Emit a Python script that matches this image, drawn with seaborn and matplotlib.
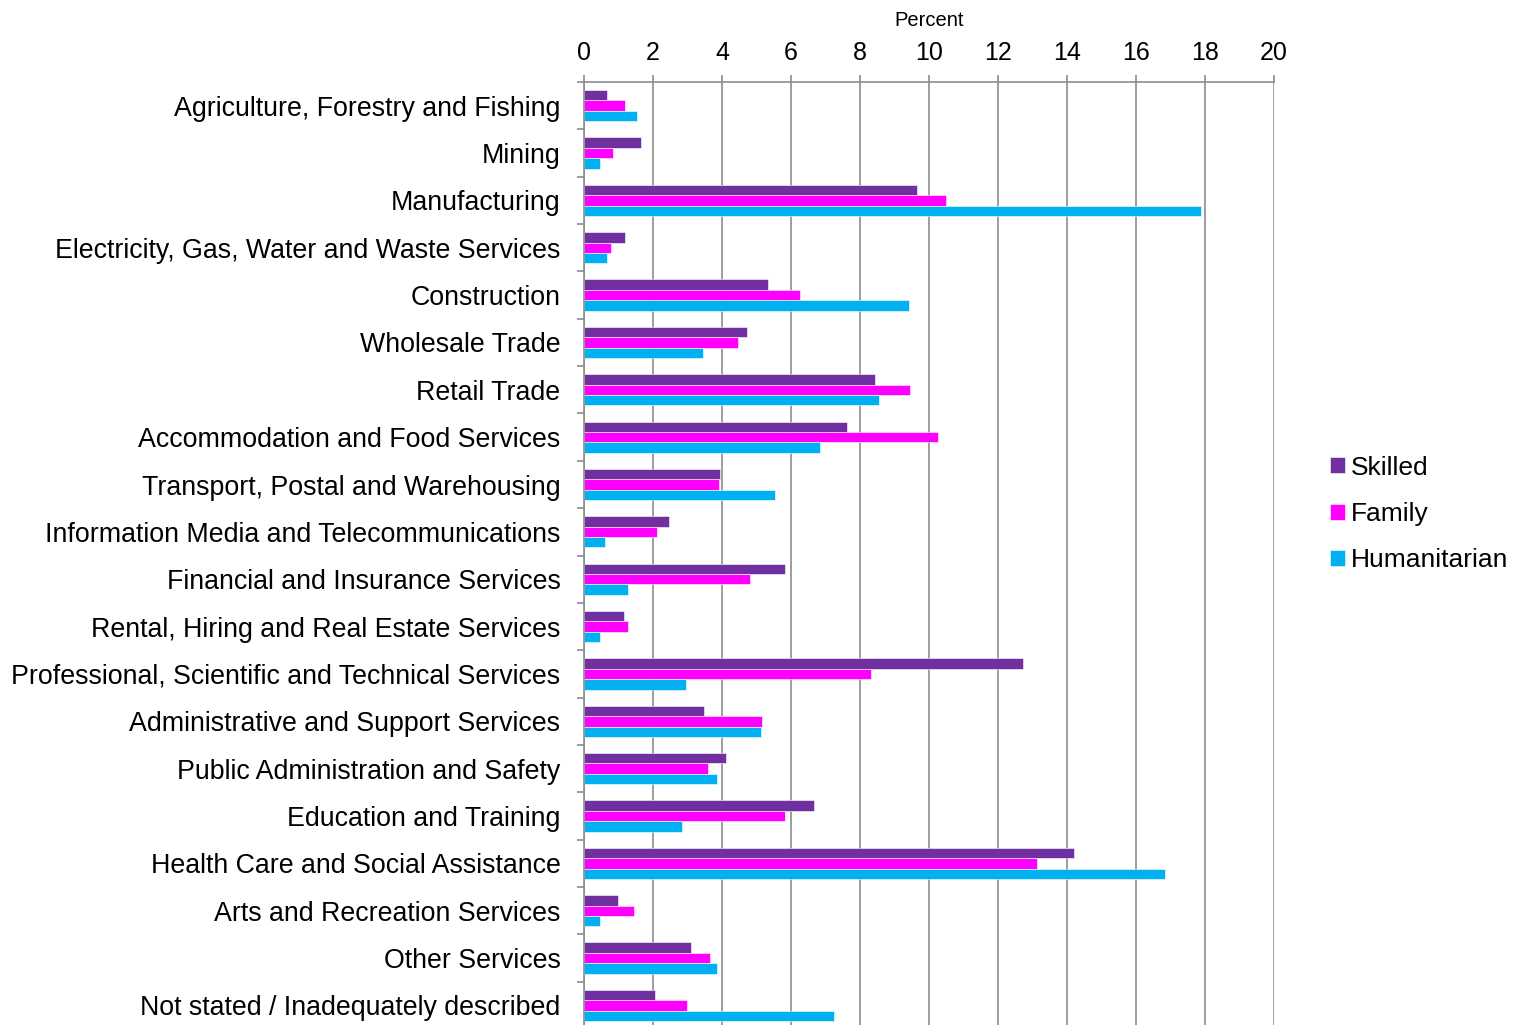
import numpy as np
import pandas as pd
import matplotlib
matplotlib.use("Agg")
import matplotlib.pyplot as plt
import seaborn as sns

industries = [
    "Agriculture, Forestry and Fishing",
    "Mining",
    "Manufacturing",
    "Electricity, Gas, Water and Waste Services",
    "Construction",
    "Wholesale Trade",
    "Retail Trade",
    "Accommodation and Food Services",
    "Transport, Postal and Warehousing",
    "Information Media and Telecommunications",
    "Financial and Insurance Services",
    "Rental, Hiring and Real Estate Services",
    "Professional, Scientific and Technical Services",
    "Administrative and Support Services",
    "Public Administration and Safety",
    "Education and Training",
    "Health Care and Social Assistance",
    "Arts and Recreation Services",
    "Other Services",
    "Not stated / Inadequately described",
]

skilled = [0.65, 1.64, 9.66, 1.2, 5.33, 4.71, 8.42, 7.62, 3.93, 2.47,
           5.82, 1.16, 12.72, 3.48, 4.1, 6.65, 14.2, 0.98, 3.09, 2.06]
family = [1.2, 0.84, 10.49, 0.78, 6.27, 4.46, 9.46, 10.27, 3.92, 2.1,
          4.8, 1.27, 8.32, 5.16, 3.58, 5.83, 13.12, 1.45, 3.66, 2.99]
humanitarian = [1.54, 0.45, 17.89, 0.65, 9.43, 3.45, 8.56, 6.84, 5.54, 0.61,
                1.27, 0.47, 2.96, 5.14, 3.84, 2.85, 16.84, 0.45, 3.84, 7.23]

streams = ["Skilled", "Family", "Humanitarian"]
colors = ["#7030A0", "#FF00FF", "#00B0F0"]

df = pd.DataFrame({
    "Industry": industries * 3,
    "Percent": skilled + family + humanitarian,
    "Stream": np.repeat(streams, len(industries)),
})

plt.rcParams["font.family"] = ["Liberation Sans", "DejaVu Sans"]
grid_col = "#8c8c8c"

fig = plt.figure(figsize=(15.25, 10.25), dpi=100)
ax = fig.add_axes([0.383, -0.004, 0.4525, 0.924])

sns.barplot(data=df, y="Industry", x="Percent", hue="Stream", order=industries,
            hue_order=streams, palette=colors, saturation=1, width=0.66,
            orient="h", edgecolor="white", linewidth=0.4, ax=ax)

ax.set_xlim(0, 20)
ax.set_xticks(np.arange(0, 21, 2))
ax.xaxis.tick_top()
ax.xaxis.set_label_position("top")
ax.set_xlabel("Percent", fontsize=14.5, labelpad=11)
ax.set_ylabel("")
ax.tick_params(axis="x", labelsize=18, length=5, width=1.2, color=grid_col,
               pad=7, direction="out")
ax.tick_params(axis="y", which="major", labelsize=19.3, length=0, pad=17)
ax.set_yticks(np.arange(len(industries) + 1) - 0.5, minor=True)
ax.tick_params(axis="y", which="minor", length=5, width=1.2, color=grid_col)
ax.set_ylim(len(industries) - 0.5, -0.5)

ax.grid(axis="x", color=grid_col, linewidth=1.2)
ax.set_axisbelow(True)
for side in ["right", "bottom"]:
    ax.spines[side].set_visible(False)
for side in ["top", "left"]:
    ax.spines[side].set_color(grid_col)
    ax.spines[side].set_linewidth(1.2)

handles, labels = ax.get_legend_handles_labels()
ax.get_legend().remove()
fig.legend(handles, labels, loc="center left", bbox_to_anchor=(0.8635, 0.4985),
           frameon=False, fontsize=19, handlelength=0.55, handleheight=0.55,
           handletextpad=0.25, labelspacing=0.85, borderpad=0)

fig.savefig("out.png", dpi=100)
